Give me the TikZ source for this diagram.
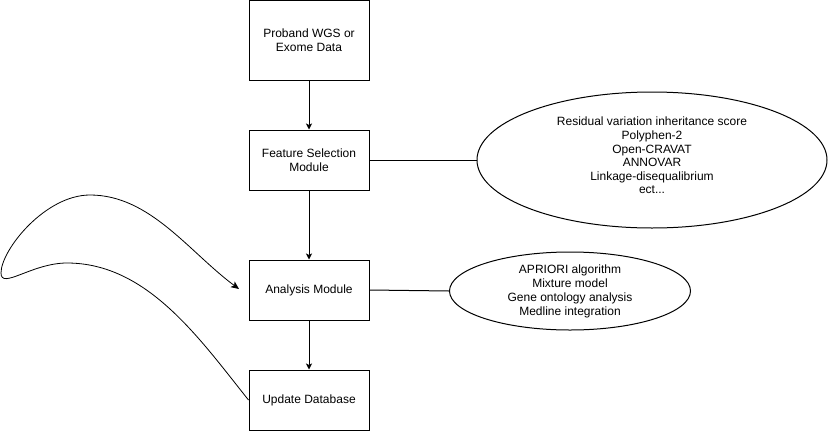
\documentclass[tikz,border=0pt]{standalone}
\usepackage{fontspec}
\setmainfont{Liberation Sans}
\usetikzlibrary{shapes.geometric,arrows.meta}
\begin{document}
\begin{tikzpicture}[x=1pt,y=-1pt,
  box/.style={draw, line width=1pt, minimum width=120pt, minimum height=60pt, inner sep=0pt, align=center, font=\fontsize{12}{13.5}\selectfont},
  oval/.style={draw, ellipse, line width=1pt, inner sep=0pt, align=center, font=\fontsize{12}{13.6}\selectfont},
  link/.style={line width=1pt},
  flow/.style={line width=1pt, -{Stealth[length=6pt,width=6pt,inset=1.5pt]}},
  loop/.style={line width=0.8pt, -{Stealth[length=8pt,width=7pt,inset=2pt]}},
]
\useasboundingbox (0,0) rectangle (829,431);
\node[box, minimum height=80pt] (data) at (309,40) {Proband WGS or\\Exome Data};
\node[box] (feat) at (309,160) {Feature Selection\\Module};
\node[box] (ana) at (309,290) {Analysis Module};
\node[box] (upd) at (309,400) {Update Database};
\node[oval, minimum width=350pt, minimum height=136pt] (tools) at (652,160)
  {Residual variation inheritance score\\Polyphen-2\\Open-CRAVAT\\ANNOVAR\\Linkage-disequalibrium\\\rule[-9pt]{0pt}{9pt}ect...};
\node[oval, minimum width=241pt, minimum height=78pt, font=\fontsize{12}{14}\selectfont] (methods) at (570,291)
  {APRIORI algorithm\\Mixture model\\Gene ontology analysis\\Medline integration};
\draw[flow] (data) -- (feat);
\draw[flow] (feat) -- (ana);
\draw[flow] (ana) -- (upd);
\draw[link] (feat.east) -- (tools.west);
\draw[link] (ana.east) -- (methods.west);
\coordinate (loopend) at (239,289);
\draw[loop] (upd.west) .. controls (199,338) and (147,263) .. (67,263)
  .. controls (32,263) and (1,290) .. (1,273)
  .. controls (1,250) and (45,195) .. (90,195)
  .. controls (150,195) and (189,252) .. (loopend);
\end{tikzpicture}
\end{document}
